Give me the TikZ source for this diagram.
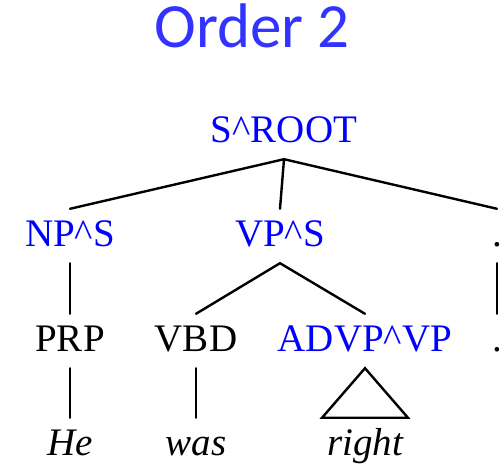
\documentclass[tikz,border=0pt]{standalone}
\usepackage{fontspec}
\setmainfont{Liberation Serif}
\newfontfamily\titlefont{Carlito}
\definecolor{titleblue}{RGB}{51,51,255}
\definecolor{treeblue}{RGB}{0,0,255}
\tikzset{
  lab/.style={font=\fontsize{39}{39}\selectfont, inner sep=0pt, text height=38pt, text depth=16pt, anchor=base},
  bluelab/.style={lab, text=treeblue},
  word/.style={lab, font=\fontsize{39}{39}\selectfont\itshape, text height=37pt},
  edge/.style={line width=2.4pt, line cap=round}
}
\begin{document}
\begin{tikzpicture}[x=1pt,y=-1pt]
\useasboundingbox (0,0) rectangle (501,470);
\node[font=\titlefont\fontsize{63}{63}\selectfont, text=titleblue, anchor=base, inner sep=0pt] (title) at (252,48) {Order 2};
% row 1
\node[bluelab] (root) at (284,143) {S\textasciicircum ROOT};
% row 2
\node[bluelab] (nps) at (70,247) {NP\textasciicircum S};
\node[bluelab] (vps) at (280,247) {VP\textasciicircum S};
\node[lab] (dot1) at (497,247) {.};
% row 3
\node[lab] (prp) at (70,352) {PRP};
\node[lab] (vbd) at (196,352) {VBD};
\node[bluelab] (advp) at (365,352) {ADVP\textasciicircum VP};
\node[lab] (dot2) at (497,352) {.};
% row 4
\node[word] (he) at (70,455) {He};
\node[word] (was) at (196,455) {was};
\node[word] (right) at (365,455) {right};
% edges
\draw[edge] (root.south) -- (nps.north);
\draw[edge] (root.south) -- (vps.north);
\draw[edge] (root.south) -- (dot1.north);
\draw[edge] (nps.south) -- (prp.north);
\draw[edge] (vps.south) -- (vbd.north);
\draw[edge] (vps.south) -- (advp.north);
\draw[edge] (dot1.south) -- (dot2.north);
\draw[edge] (prp.south) -- (he.north);
\draw[edge] (vbd.south) -- (was.north);
\draw[edge, line join=miter] (advp.south) -- ([xshift=-43pt]right.north) -- ([xshift=43pt]right.north) -- cycle;
\end{tikzpicture}
\end{document}
